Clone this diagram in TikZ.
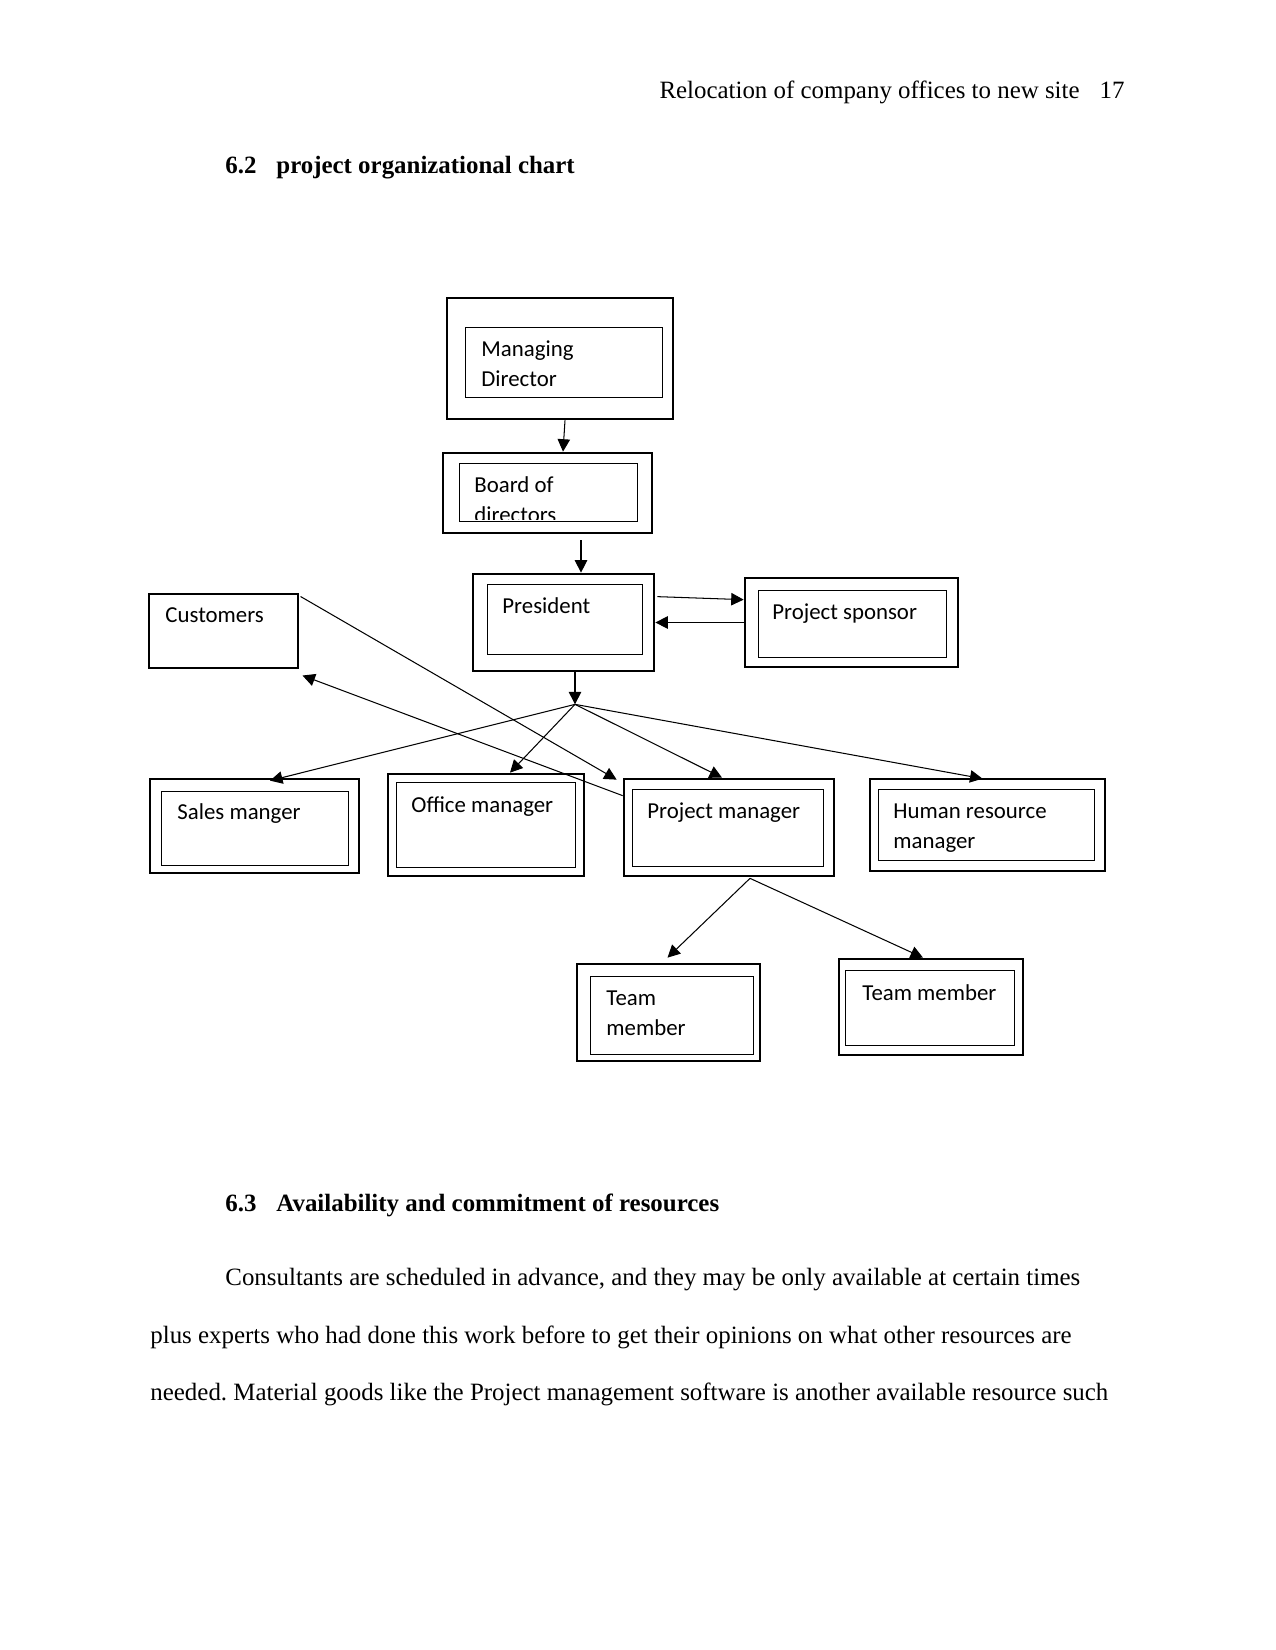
\documentclass[tikz,border=0pt]{standalone}
\usepackage{fontspec}
\setmainfont{Liberation Serif}
\newfontfamily\carl{Carlito}
\usetikzlibrary{arrows.meta,positioning,fit,calc}
\frenchspacing

\begin{document}
\begin{tikzpicture}[
  x=0.4818pt, y=-0.4818pt,
  obox/.style={draw, line width=1.3pt, inner sep=0pt},
  ibox/.style={draw, line width=0.45pt, inner sep=0pt},
  sbox/.style={draw, line width=0.5pt, inner sep=0pt},
  lbl/.style={anchor=base west, inner sep=0pt, font=\carl\fontsize{11}{13}\selectfont},
  txt/.style={anchor=base west, inner sep=0pt, font=\fontsize{12}{14}\selectfont},
  head/.style={txt, font=\fontsize{12}{14}\selectfont\bfseries},
  arr/.style={-{Triangle[length=6pt,width=6pt]}, line width=0.5pt}
]
\useasboundingbox (0,0) rectangle (1275,1650);

% page text
\node[txt, anchor=base east] (hdr) at (1080,99) {Relocation of company offices to new site};
\node[txt, anchor=base east] (pgno) at (1125,99) {17};
\node[head] (s62) at (225,174) {6.2};
\node[head] (s62t) at (276,174) {project organizational chart};
\node[head] (s63) at (225,1211) {6.3};
\node[head] (s63t) at (276,1211) {Availability and commitment of resources};
\node[txt] (p1) at (225,1285) {Consultants are scheduled in advance, and they may be only available at certain times};
\node[txt] (p2) at (150,1343) {plus experts who had done this work before to get their opinions on what other resources are};
\node[txt] (p3) at (150,1400) {needed. Material goods like the Project management software is another available resource such};

% managing director
\node[obox, fit={(447,298) (673,419)}] (md) {};
\node[ibox, fit={(465,327) (662,397)}] (md-in) {};
\node[lbl] (md-t1) at (481,357) {Managing};
\node[lbl] (md-t2) at (481,387) {Director};

% board of directors
\node[obox, fit={(443,453) (652,533)}] (bd) {};
\node[ibox, fit={(459,463) (637,521)}] (bd-in) {};
\node[lbl] (bd-t1) at (474,493) {Board of};
\begin{scope}
  \clip (bd-in.north west) rectangle ($(bd-in.south east)+(0,-2)$);
  \node[lbl] (bd-t2) at (474,522) {directors};
\end{scope}

% president and sponsor
\node[obox, fit={(473,574) (654,671)}] (pr) {};
\node[ibox, fit={(487,584) (642,654)}] (pr-in) {};
\node[lbl] (pr-t) at (502,613) {President};
\node[obox, fit={(745,578) (958,667)}] (ps) {};
\node[ibox, fit={(758,590) (946,657)}] (ps-in) {};
\node[lbl] (ps-t) at (772,619) {Project sponsor};

% customers
\node[sbox, fit={(149,594) (298,668)}] (cu) {};
\node[lbl] (cu-t) at (165,622) {Customers};

% managers
\node[obox, fit={(150,779) (359,873)}] (sm) {};
\node[ibox, fit={(161,791) (348,865)}] (sm-in) {};
\node[lbl] (sm-t) at (177,819) {Sales manger};
\node[obox, fit={(388,774) (584,876)}] (om) {};
\node[ibox, fit={(396,782) (575,867)}] (om-in) {};
\node[lbl] (om-t) at (411,812) {Office manager};
\node[obox, fit={(624,779) (834,876)}] (pm) {};
\node[ibox, fit={(632,789) (823,866)}] (pm-in) {};
\node[lbl] (pm-t) at (647,818) {Project manager};
\node[obox, fit={(870,779) (1105,871)}] (hr) {};
\node[ibox, fit={(878,789) (1094,860)}] (hr-in) {};
\node[lbl] (hr-t1) at (893,818) {Human resource};
\node[lbl] (hr-t2) at (893,848) {manager};

% team members
\node[obox, fit={(577,964) (760,1061)}] (tm1) {};
\node[ibox, fit={(590,976) (753,1054)}] (tm1-in) {};
\node[lbl] (tm1-t1) at (606,1005) {Team};
\node[lbl] (tm1-t2) at (606,1035) {member};
\node[obox, fit={(839,959) (1023,1055)}] (tm2) {};
\node[ibox, fit={(845,970) (1014,1045)}] (tm2-in) {};
\node[lbl] (tm2-t) at (862,1000) {Team member};

% connectors
\coordinate (hub) at ($(pr.south)+(11.5,32)$);
\draw[arr] ($(md.south)+(5,0)$) -- ($(bd.north)+(15.5,0)$);
\draw[arr] ($(bd.south)+(33.5,6)$) -- ($(pr.north)+(17.5,0)$);
\draw[arr] ($(pr.north east)+(2,24)$) -- ($(ps.north west)+(0,23)$);
\draw[arr] (ps.west) -- (pr.east);
\draw[arr] ($(pr.south)+(11.5,0)$) -- (hub);
\draw[arr] (hub) -- ($(sm.north)+(15.5,3)$);
\draw[arr] (hub) -- ($(om.north)+(24,0)$);
\draw[arr] (hub) -- ($(pm.north)+(-7,0)$);
\draw[arr] (hub) -- ($(hr.north)+(-5,1)$);
\draw[arr] ($(cu.north east)+(2,3)$) -- ($(pm.north west)+(-6,2)$);
\draw[arr] ($(pm.north west)+(0,18)$) -- ($(cu.south east)+(4,7)$);
\draw[arr] ($(pm.south)+(21,1)$) -- ($(tm1.north)+(-1,-5)$);
\draw[arr] ($(pm.south)+(21,1)$) -- ($(tm2.north)+(-8,0)$);
\end{tikzpicture}
\end{document}
